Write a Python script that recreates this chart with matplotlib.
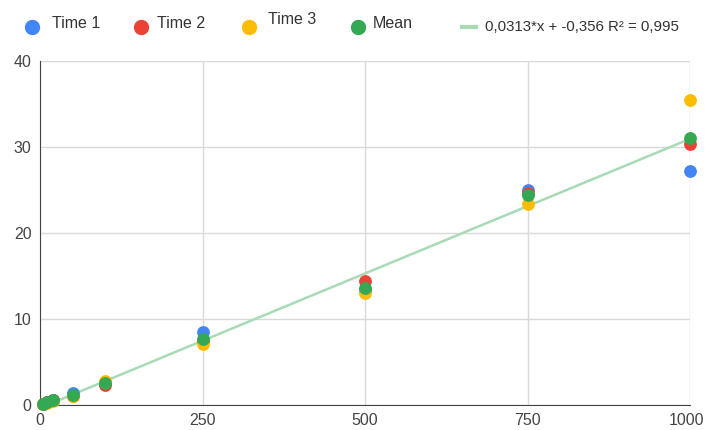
import matplotlib
matplotlib.use("Agg")
import matplotlib.pyplot as plt
import numpy as np
from matplotlib.lines import Line2D
import matplotlib.transforms as mtransforms

plt.rcParams["font.family"] = ["Liberation Sans", "DejaVu Sans"]

x = [5, 10, 20, 50, 100, 250, 500, 750, 1000]
time1 = [0.15, 0.35, 0.6, 1.4, 2.6, 8.5, 13.4, 25.0, 27.2]
time2 = [0.1, 0.3, 0.55, 1.1, 2.3, 7.5, 14.4, 24.7, 30.3]
time3 = [0.1, 0.25, 0.5, 1.0, 2.8, 7.1, 13.0, 23.4, 35.5]
mean = [0.12, 0.3, 0.55, 1.2, 2.6, 7.7, 13.6, 24.4, 31.0]
slope, intercept = 0.0313, -0.356
trend_label = "0,0313*x + -0,356 R² = 0,995"
xticks = [0, 250, 500, 750, 1000]
yticks = [0, 10, 20, 30, 40]
series_names = ["Time 1", "Time 2", "Time 3", "Mean"]

W, H = 707, 430
fig = plt.figure(figsize=(W/100, H/100), dpi=100)
ax = fig.add_axes([40/W, 25/H, 650/W, 344/H])

colors = {"Time 1": "#4285f4", "Time 2": "#ea4335", "Time 3": "#fbbc04", "Mean": "#34a853"}
for name, vals in zip(series_names, [time1, time2, time3, mean]):
    ax.scatter(x, vals, s=85, color=colors[name], zorder=3, clip_on=False, linewidths=0)

xs = np.array([0, 1000])
ax.plot(xs, slope * xs + intercept, color="#a8dab5", lw=1.8, zorder=2)

ax.set_xlim(0, 1000)
ax.set_ylim(0, 40)
ax.set_xticks(xticks)
ax.set_yticks(yticks)
ax.grid(True, color="#d9d9d9", lw=1)
ax.set_axisbelow(True)
for s in ["top", "right"]:
    ax.spines[s].set_visible(False)
ax.spines["left"].set_color("#444444")
ax.spines["bottom"].set_color("#444444")
ax.tick_params(length=0, labelsize=11.5, colors="#444444", pad=6)
lbls = ax.get_xticklabels()
lbls[-1].set_transform(lbls[-1].get_transform() + mtransforms.ScaledTranslation(-3/100, 0, fig.dpi_scale_trans))

# manual legend
def fy(py):
    return 1 - py / H

marker_x = [32, 141, 249, 358]
text_x = [52, 157, 268, 373]
text_y = [24, 23, 20, 23]
for name, mx, tx, ty in zip(series_names, marker_x, text_x, text_y):
    fig.add_artist(Line2D([mx/W], [fy(27)], marker="o", ls="", color=colors[name],
                          markersize=10, transform=fig.transFigure))
    fig.text(tx/W, fy(ty), name, fontsize=11.5, color="#333333", va="center", ha="left")
fig.add_artist(Line2D([462/W, 476/W], [fy(27), fy(27)], color="#a8dab5", lw=3,
                      transform=fig.transFigure))
fig.text(485/W, fy(27), trend_label, fontsize=10.8, color="#333333", va="center", ha="left")

fig.savefig("out.png", dpi=100)
